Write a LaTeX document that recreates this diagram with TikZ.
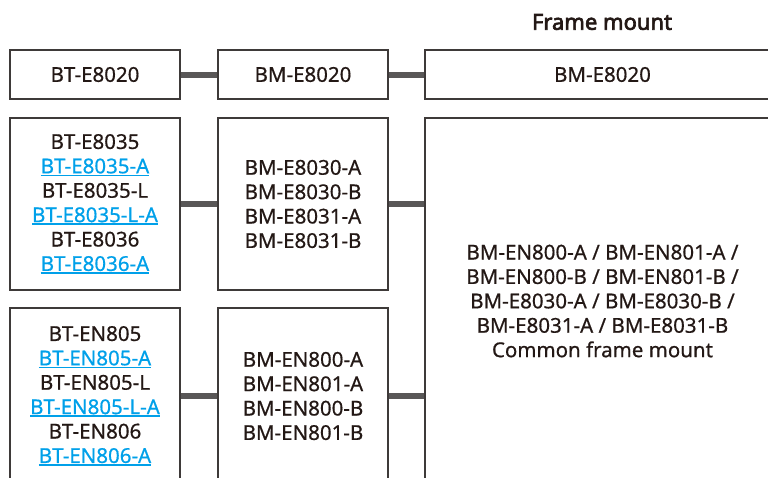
\documentclass[tikz,border=0pt]{standalone}
\usepackage{fontspec}
\setmainfont{Noto Sans}[FakeBold=0.6, AutoFakeBold=3]
\definecolor{inkc}{HTML}{231815}
\definecolor{framec}{HTML}{3E3A39}
\definecolor{barc}{HTML}{595757}
\definecolor{linkblue}{HTML}{00A0E9}
\newcommand{\lnk}[1]{\textcolor{linkblue}{\setbox0\hbox{#1}\rlap{\rule[-3pt]{\wd0}{1.8pt}}\box0}}
\tikzset{
  partbox/.style={draw=framec, line width=1.2pt, text=inkc, align=center,
    inner sep=0pt, font=\fontsize{20.5}{24.4}\selectfont},
  linkbar/.style={draw=barc, line width=6pt}
}
\begin{document}
\begin{tikzpicture}[x=1pt,y=-1pt]
    \useasboundingbox (0,0) rectangle (768,477);
    \clip (0,0) rectangle (768,477);

    % Title
    \node[text=inkc, font=\fontsize{22}{26}\selectfont\bfseries] (title) at (602,22) {Frame mount};

    % Top row
    \node[partbox, minimum width=170pt, minimum height=49pt] (bt1) at (95,74.5) {BT-E8020};
    \node[partbox, minimum width=170pt, minimum height=49pt] (bm1) at (303,74.5) {BM-E8020};
    \node[partbox, minimum width=355pt, minimum height=49pt] (fm1) at (602.5,74.5) {BM-E8020};

    % Middle row
    \node[partbox, minimum width=170pt, minimum height=172pt] (bt2) at (95,204)
        {BT-E8035\\\lnk{BT-E8035-A}\\BT-E8035-L\\\lnk{BT-E8035-L-A}\\BT-E8036\\\lnk{BT-E8036-A}};
    \node[partbox, minimum width=170pt, minimum height=172pt] (bm2) at (303,204)
        {BM-E8030-A\\BM-E8030-B\\BM-E8031-A\\BM-E8031-B};

    % Common frame mount
    \node[partbox, minimum width=355pt, minimum height=366pt] (fm2) at (602.5,301)
        {BM-EN800-A / BM-EN801-A /\\BM-EN800-B / BM-EN801-B /\\BM-E8030-A / BM-E8030-B /\\BM-E8031-A / BM-E8031-B\\Common frame mount};

    % Bottom row
    \node[partbox, minimum width=170pt, minimum height=176pt] (bt3) at (95,396)
        {BT-EN805\\\lnk{BT-EN805-A}\\BT-EN805-L\\\lnk{BT-EN805-L-A}\\BT-EN806\\\lnk{BT-EN806-A}};
    \node[partbox, minimum width=170pt, minimum height=176pt] (bm3) at (303,396)
        {BM-EN800-A\\BM-EN801-A\\BM-EN800-B\\BM-EN801-B};

    % Links
    \draw[linkbar] (bt1.east) -- (bm1.west);
    \draw[linkbar] (bm1.east) -- (fm1.west);
    \draw[linkbar] (bt2.east) -- (bm2.west);
    \draw[linkbar] (bm2.east) -- (bm2.east -| fm2.west);
    \draw[linkbar] (bt3.east) -- (bm3.west);
    \draw[linkbar] (bm3.east) -- (bm3.east -| fm2.west);
\end{tikzpicture}
\end{document}
